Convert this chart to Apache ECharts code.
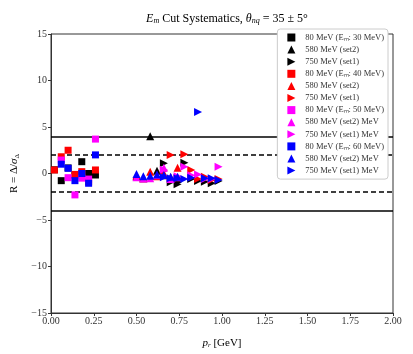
<!DOCTYPE html>
<html>
<head>
<meta charset="utf-8">
<script src="https://cdn.jsdelivr.net/npm/echarts@6/dist/echarts.min.js"></script>
<style>
  html, body { margin: 0; padding: 0; background: #fff; }
  #chart { width: 413px; height: 354px; }
</style>
</head>
<body>
<div id="chart"></div>
<script>
// p_r bins for each kinematic setting
const pSquare = [0.02, 0.06, 0.10, 0.14, 0.18, 0.22, 0.26];
const pUp = [0.50, 0.54, 0.58, 0.62, 0.66, 0.70, 0.74];
const pRight = [0.66, 0.70, 0.74, 0.78, 0.82, 0.86, 0.90, 0.94, 0.98];

// R values, Em cut 30 MeV (black)
const sq30 = [0.4, -0.77, 0.6, -0.16, 1.27, 0.0, -0.16];
const up30 = [-0.3, -0.5, 4.0, 0.3, -0.2, -0.5, -0.6];
const rt30 = [1.1, -0.95, -1.16, 1.16, -0.6, -0.8, -0.9, -1.05, -0.8];
// Em cut 40 MeV (red)
const sq40 = [0.38, 1.8, 2.5, -0.1, 0.2, -0.9, 0.38];
const up40 = [-0.2, -0.5, 0.2, -0.3, 0.0, -0.4, 0.62];
const rt40 = [0.3, 2.0, -0.5, 2.06, 0.38, -0.6, -0.34, -0.7, -0.6];
// Em cut 50 MeV (magenta)
const sq50 = [null, 1.45, -0.45, -2.3, -0.5, -0.6, 3.7];
const up50 = [-0.4, -0.55, -0.5, -0.2, 0.62, -0.6, -0.4];
const rt50 = [0.4, -0.6, -0.3, 0.73, -0.2, -0.1, -0.6, -0.6, 0.73];
// Em cut 60 MeV (blue)
const sq60 = [null, 1.0, 0.56, -0.77, 0.0, -1.05, 2.0];
const up60 = [-0.05, -0.3, -0.23, -0.1, -0.16, -0.34, -0.34];
const rt60 = [-0.4, -0.5, -0.5, -0.6, -0.45, 6.6, -0.5, -0.5, -0.7];

const names = [
  '80 MeV (Eₘ: 30 MeV)', '580 MeV (set2)', '750 MeV (set1)',
  '80 MeV (Eₘ: 40 MeV)', '580 MeV (set2) ', '750 MeV (set1) ',
  '80 MeV (Eₘ: 50 MeV)', '580 MeV (set2) MeV', '750 MeV (set1) MeV',
  '80 MeV (Eₘ: 60 MeV)', '580 MeV (set2) MeV ', '750 MeV (set1) MeV '
];
const colors = ['#000000', '#ff0000', '#ff00ff', '#0000ff'];
const groups = [[sq30, up30, rt30], [sq40, up40, rt40], [sq50, up50, rt50], [sq60, up60, rt60]];
const xs = [pSquare, pUp, pRight];
const symbols = ['rect', 'triangle', 'path://M0,0 L10,5 L0,10 Z'];
const sizes = [7, 8, 8];

const series = [];
groups.forEach((g, gi) => {
  g.forEach((vals, k) => {
    series.push({
      name: names[gi * 3 + k],
      type: 'scatter',
      symbol: symbols[k],
      symbolSize: sizes[k],
      itemStyle: { color: colors[gi], opacity: 1 },
      data: vals.map((v, i) => [xs[k][i], v]).filter(d => d[1] !== null),
      z: 3
    });
  });
});

// reference lines at +-2 (dashed) and +-4 (solid)
series[0].markLine = {
  silent: true,
  symbol: 'none',
  label: { show: false },
  animation: false,
  z: 1,
  data: [
    { yAxis: 4, lineStyle: { type: 'solid', color: '#000', width: 1.5 } },
    { yAxis: -4, lineStyle: { type: 'solid', color: '#000', width: 1.5 } },
    { yAxis: 2, lineStyle: { type: [5, 3], color: '#000', width: 1.5 } },
    { yAxis: -2, lineStyle: { type: [5, 3], color: '#000', width: 1.5 } }
  ]
};

const font = 'Liberation Serif';
const chart = echarts.init(document.getElementById('chart'));
chart.setOption({
  animation: false,
  textStyle: { fontFamily: font },
  title: {
    text: '{i|E}{s|m} Cut Systematics, {i|θ}{s|nq} = 35 ± 5°',
    left: 222,
    textAlign: 'center',
    top: 7,
    textStyle: {
      fontFamily: font, fontSize: 12, fontWeight: 'normal', color: '#000',
      rich: {
        i: { fontFamily: font, fontSize: 12, fontStyle: 'italic', color: '#000' },
        s: { fontFamily: font, fontSize: 8, fontStyle: 'italic', color: '#000', verticalAlign: 'bottom', padding: [5, 0, 0, 0] }
      }
    }
  },
  grid: { left: 51, right: 20, top: 34, bottom: 41, show: true, borderColor: '#333', borderWidth: 1 },
  legend: {
    orient: 'vertical',
    right: 25,
    top: 29,
    z: 20,
    itemWidth: 8,
    itemHeight: 8,
    itemGap: 3.1,
    padding: [4, 4, 4, 10],
    backgroundColor: '#fff',
    borderColor: '#ccc',
    borderWidth: 1,
    borderRadius: 3,
    textStyle: { fontFamily: font, fontSize: 8.5, color: '#333', padding: [0, 0, 0, 5] },
    data: names
  },
  xAxis: {
    type: 'value',
    min: 0,
    max: 2,
    interval: 0.25,
    name: '{i|p}{s|r} [GeV]',
    nameLocation: 'middle',
    nameGap: 24,
    nameTextStyle: {
      fontFamily: font, fontSize: 11, color: '#000',
      rich: {
        i: { fontFamily: font, fontSize: 11, fontStyle: 'italic', color: '#000' },
        s: { fontFamily: font, fontSize: 7, fontStyle: 'italic', color: '#000', verticalAlign: 'bottom', padding: [5, 0, 0, 0] }
      }
    },
    axisLine: { onZero: false, lineStyle: { color: '#333' } },
    axisTick: { length: 3, lineStyle: { color: '#333' } },
    axisLabel: { fontFamily: font, fontSize: 10, color: '#333', margin: 3, formatter: v => v.toFixed(2) },
    splitLine: { show: false }
  },
  yAxis: {
    type: 'value',
    min: -15,
    max: 15,
    interval: 5,
    name: 'R = Δ/{i|σ}{s|Δ}',
    nameLocation: 'middle',
    nameGap: 20,
    nameTextStyle: {
      fontFamily: font, fontSize: 11, color: '#000',
      rich: {
        i: { fontFamily: font, fontSize: 11, fontStyle: 'italic', color: '#000' },
        s: { fontFamily: font, fontSize: 7, color: '#000', verticalAlign: 'bottom', padding: [5, 0, 0, 0] }
      }
    },
    axisLine: { show: true, onZero: false, lineStyle: { color: '#333' } },
    axisTick: { show: true, length: 3, lineStyle: { color: '#333' } },
    axisLabel: { fontFamily: font, fontSize: 10, color: '#333', margin: 4, formatter: v => (v < 0 ? '−' + Math.abs(v) : '' + v) },
    splitLine: { show: false }
  },
  series: series
});
</script>
</body>
</html>
